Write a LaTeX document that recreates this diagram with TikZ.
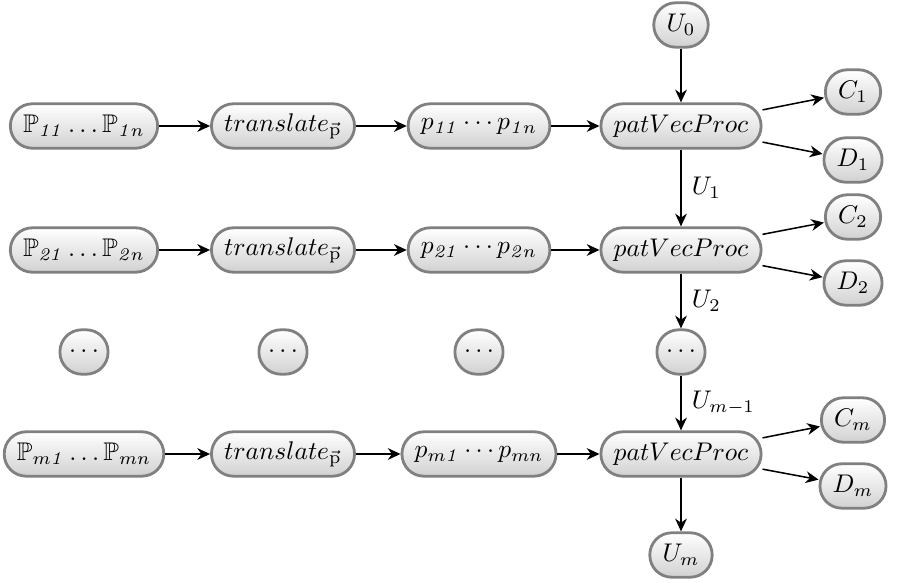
\documentclass[tikz,border=0pt]{standalone}
\usepackage{amssymb}
\usetikzlibrary{arrows.meta}
\tikzset{
  box/.style={draw=black!50, line width=1.1pt, rectangle, rounded corners=8.6pt,
    top color=white, bottom color=black!18, minimum height=17.4pt,
    inner xsep=5pt, inner ysep=2pt},
  dotsbox/.style={box, inner xsep=3.6pt},
  conn/.style={-{Stealth[length=5pt,width=4.6pt,inset=1.6pt]}, line width=0.6pt},
  lbl/.style={right, midway, inner sep=4pt}
}
\begin{document}
\begin{tikzpicture}[x=0.3917pt,y=-0.3917pt]
\useasboundingbox (0,0) rectangle (909,583);
% column 1
\node[box] (P1) at (84,126) {$\mathbb{P}_{\mathit{11}}\ldots\mathbb{P}_{\mathit{1}n}$};
\node[box] (P2) at (84,250) {$\mathbb{P}_{\mathit{21}}\ldots\mathbb{P}_{\mathit{2}n}$};
\node[dotsbox] (P3) at (84,352) {$\cdots$};
\node[box] (Pm) at (84,454) {$\mathbb{P}_{m\mathit{1}}\ldots\mathbb{P}_{mn}$};
% column 2
\node[box] (T1) at (283,126) {$translate_{\vec{\mathrm{p}}}$};
\node[box] (T2) at (283,250) {$translate_{\vec{\mathrm{p}}}$};
\node[dotsbox] (T3) at (283,352) {$\cdots$};
\node[box] (Tm) at (283,454) {$translate_{\vec{\mathrm{p}}}$};
% column 3
\node[box] (Q1) at (479,126) {$p_{\mathit{11}}\cdots p_{\mathit{1}n}$};
\node[box] (Q2) at (479,250) {$p_{\mathit{21}}\cdots p_{\mathit{2}n}$};
\node[dotsbox] (Q3) at (479,352) {$\cdots$};
\node[box] (Qm) at (479,454) {$p_{m\mathit{1}}\cdots p_{mn}$};
% column 4
\node[box] (U0) at (681,25) {$U_0$};
\node[box] (V1) at (681,126) {$patVecProc$};
\node[box] (V2) at (681,250) {$patVecProc$};
\node[dotsbox] (V3) at (681,352) {$\cdots$};
\node[box] (Vm) at (681,454) {$patVecProc$};
\node[box] (Um) at (681,555) {$U_m$};
% column 5
\node[box] (C1) at (853,92) {$C_1$};
\node[box] (D1) at (853,160) {$D_1$};
\node[box] (C2) at (853,217) {$C_2$};
\node[box] (D2) at (853,283) {$D_2$};
\node[box] (Cm) at (853,420) {$C_m$};
\node[box] (Dm) at (853,486) {$D_m$};
% horizontal connectors
\foreach \r in {1,2,m}{
  \draw[conn] (P\r) -- (T\r);
  \draw[conn] (T\r) -- (Q\r);
  \draw[conn] (Q\r) -- (V\r);
}
\draw[conn] (V1) -- (C1);
\draw[conn] (V1) -- (D1);
\draw[conn] (V2) -- (C2);
\draw[conn] (V2) -- (D2);
\draw[conn] (Vm) -- (Cm);
\draw[conn] (Vm) -- (Dm);
% vertical connectors
\draw[conn] (U0) -- (V1);
\draw[conn] (V1) -- node[lbl] {$U_1$} (V2);
\draw[conn] (V2) -- node[lbl] {$U_2$} (V3);
\draw[conn] (V3) -- node[lbl] {$U_{m-1}$} (Vm);
\draw[conn] (Vm) -- (Um);
\end{tikzpicture}
\end{document}
